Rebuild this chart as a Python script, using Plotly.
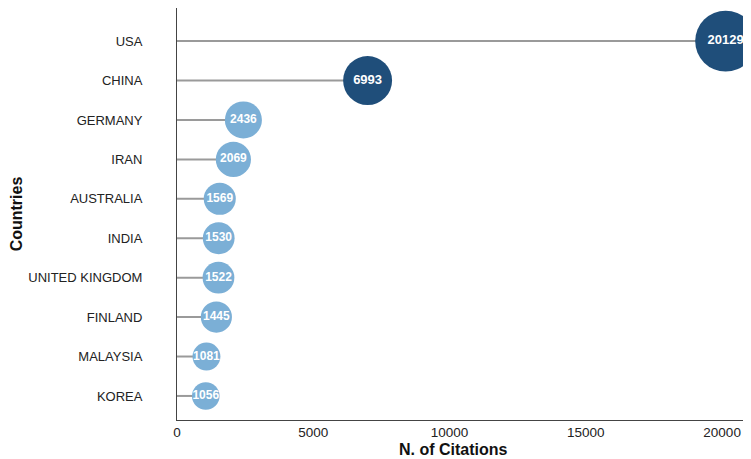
import numpy as np
import plotly.graph_objects as go

countries = ["USA", "CHINA", "GERMANY", "IRAN", "AUSTRALIA", "INDIA",
             "UNITED KINGDOM", "FINLAND", "MALAYSIA", "KOREA"]
citations = [20129, 6993, 2436, 2069, 1569, 1530, 1522, 1445, 1081, 1056]
x_ticks = [0, 5000, 10000, 15000, 20000]

LIGHT = "#7bafd6"
DARK = "#1f4e7a"
FONT = "Liberation Sans, Arial, sans-serif"

n = len(countries)
ypos = [n - 1 - i for i in range(n)]

# stems
lx, ly = [], []
for v, y in zip(citations, ypos):
    lx += [0, v, None]
    ly += [y, y, None]

sizes = [26 * np.log10(v) - 51 for v in citations]
colors = [DARK if v > 5000 else LIGHT for v in citations]
tsizes = [13 if v > 5000 else 12 for v in citations]

fig = go.Figure()
fig.add_trace(go.Scatter(x=lx, y=ly, mode="lines",
                         line=dict(color="#9a9a9a", width=2),
                         hoverinfo="skip", showlegend=False))
fig.add_trace(go.Scatter(x=citations, y=ypos, mode="markers+text",
                         marker=dict(size=sizes, color=colors, opacity=1,
                                     line=dict(width=0)),
                         text=[str(v) for v in citations],
                         textposition="middle center",
                         textfont=dict(color="white", size=tsizes, family=FONT, weight="bold"),
                         cliponaxis=False, showlegend=False))

fig.update_layout(
    width=743, height=451,
    margin=dict(l=169, r=0, t=0, b=39),
    paper_bgcolor="white", plot_bgcolor="white",
    font=dict(family=FONT, color="#222222"),
    annotations=[dict(text="<b>N. of Citations</b>", xref="paper", yref="paper",
                      x=0.481, y=0, yshift=-29, xanchor="center", yanchor="middle",
                      showarrow=False, font=dict(size=16, color="#111111"))],
)
fig.update_xaxes(range=[0, 21060], tickvals=x_ticks, ticktext=[str(t) for t in x_ticks],
                 showgrid=False, zeroline=False, showline=True, linecolor="#444444",
                 linewidth=1, ticks="", ticklabelstandoff=0,
                 tickfont=dict(size=13.5, color="#222222"))
fig.update_yaxes(range=[-0.61, 9.84], tickvals=ypos, ticktext=countries,
                 showgrid=False, zeroline=False, showline=True, linecolor="#444444",
                 linewidth=1, ticks="", ticklabelstandoff=31,
                 tickfont=dict(size=13, color="#222222"),
                 title=dict(text="<b>Countries</b>", font=dict(size=16, color="#111111"),
                            standoff=4))

fig.write_html("out.html")
